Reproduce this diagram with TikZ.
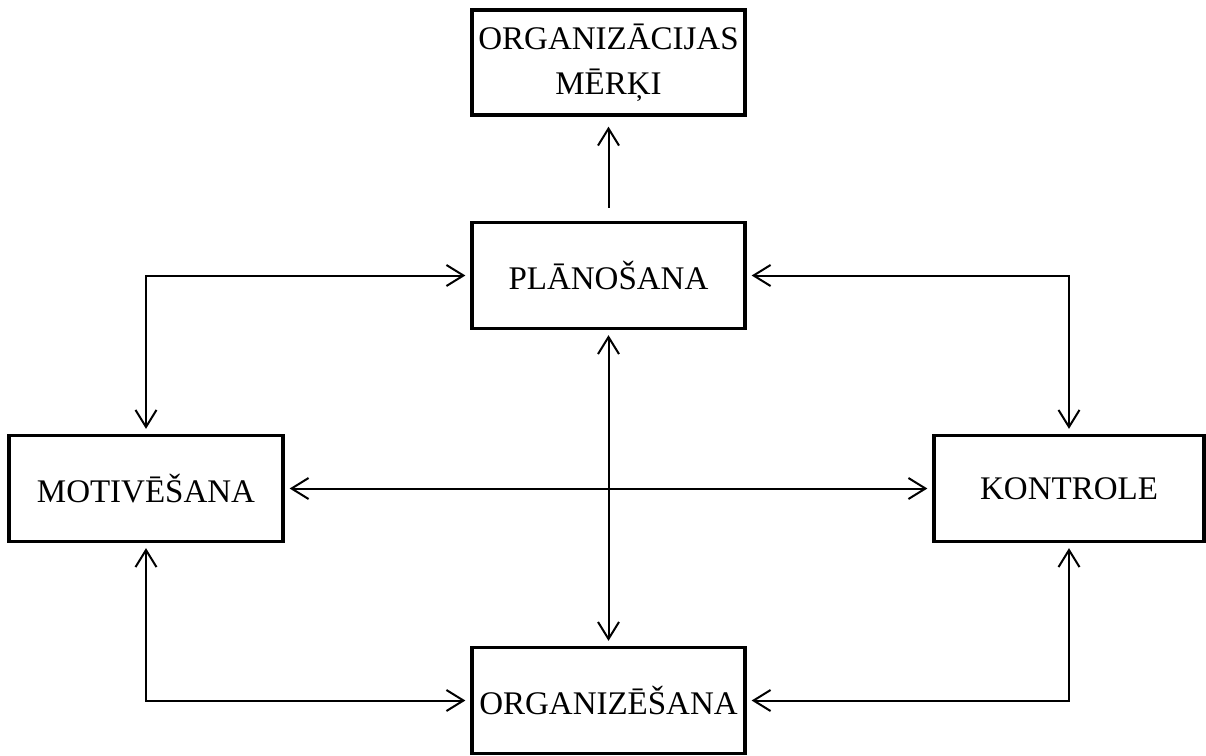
\documentclass[tikz,border=0pt]{standalone}
\usepackage{fontspec}
\setmainfont{Liberation Serif}
\usepackage{tikz}
\usetikzlibrary{positioning,arrows.meta}

\begin{document}
\begin{tikzpicture}[x=1pt, y=-1pt, >={Straight Barb[length=17pt,width=21pt]},
  box/.style={rectangle, draw, line width=3.3pt, minimum width=273pt, minimum height=106pt, inner sep=0pt, align=center, font=\fontsize{33}{45}\selectfont},
  link/.style={line width=2pt, <->, shorten <=5pt, shorten >=5pt}]
\useasboundingbox (0,0) rectangle (1206,755);
\node[box, minimum height=105pt] (goals) at (608.5,62.5) {ORGANIZĀCIJAS\\MĒRĶI};
\node[box] (plan) at (608.5,275.5) {PLĀNOŠANA};
\node[box, minimum width=274pt] (motiv) at (146,488.5) {MOTIVĒŠANA};
\node[box, minimum width=270pt] (ctrl) at (1069,488.5) {KONTROLE};
\node[box] (org) at (608.5,700.5) {ORGANIZĒŠANA};

\draw[line width=2pt, ->, shorten <=13pt, shorten >=10pt] (plan) -- (goals);
\draw[link] (motiv.north) |- (plan.west);
\draw[link] (plan.east) -| (ctrl.north);
\draw[link] (plan.south) -- (org.north);
\draw[link] (motiv.east) -- (ctrl.west);
\draw[link] (motiv.south) |- (org.west);
\draw[link] (ctrl.south) |- (org.east);
\end{tikzpicture}
\end{document}
